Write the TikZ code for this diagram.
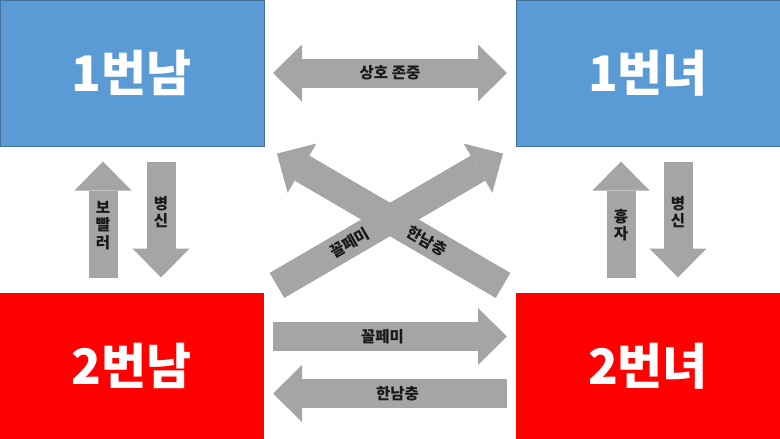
\documentclass[tikz,border=0pt]{standalone}
\usepackage{fontspec}
\newfontfamily\kr{Noto Sans CJK KR}
\usetikzlibrary{arrows.meta,calc}
\definecolor{boxblue}{HTML}{5B9BD5}
\definecolor{boxblueline}{HTML}{41719C}
\definecolor{boxred}{HTML}{FF0000}
\definecolor{arrowgray}{HTML}{A5A5A5}
\tikzset{
  fathead/.tip={Triangle[length=29pt,width=57pt,line width=0pt]},
  person/.style={minimum width=264pt,minimum height=146pt,inner sep=0pt,outer sep=0pt,
    text=white,font=\kr\bfseries\fontsize{49}{55}\selectfont},
  blue box/.style={person,fill=boxblue,draw=boxblueline,line width=1pt},
  red box/.style={person,fill=boxred},
  fat arrow/.style={draw=arrowgray,line width=29pt,-fathead,shorten <=#1,shorten >=#1},
  fat arrow/.default=9pt,
  fat label/.style={font=\kr\bfseries\fontsize{15.5}{17.5}\selectfont,text=black!90,inner sep=0pt}
}

\begin{document}
\begin{tikzpicture}[x=1pt,y=-1pt]
\useasboundingbox (0,0) rectangle (780,439);
% the four people
\node[blue box] (m1) at (132,73) {1번남};
\node[blue box] (w1) at (648,73) {1번녀};
\node[red box] (m2) at (132,366) {2번남};
\node[red box] (w2) at (648,366) {2번녀};
% top
\draw[fat arrow,fathead-fathead] (m1) -- (w1) node[midway,fat label] {상호 존중};
% left side
\draw[fat arrow=15.5pt] ($(m2.north)+(-29,0)$) -- ($(m1.south)+(-29,0)$)
  node[pos=0.46,fat label,align=center] {보\\빨\\러};
\draw[fat arrow=15.5pt] ($(m1.south)+(29,0)$) -- ($(m2.north)+(29,0)$)
  node[pos=0.45,fat label,align=center] {병\\신};
% right side
\draw[fat arrow=15.5pt] ($(w2.north)+(-27,0)$) -- ($(w1.south)+(-27,0)$)
  node[pos=0.46,fat label,align=center] {흉\\자};
\draw[fat arrow=15.5pt] ($(w1.south)+(30,0)$) -- ($(w2.north)+(30,0)$)
  node[pos=0.45,fat label,align=center] {병\\신};
% cross
\draw[fat arrow=15pt] (m2.north east) -- (w1.south west)
  node[pos=0.34,sloped,fat label] {꼴페미};
\draw[fat arrow=15pt] (w2.north west) -- (m1.south east)
  node[pos=0.353,sloped,fat label] {한남충};
% bottom
\draw[fat arrow] ($(m2.east)+(0,-29.5)$) -- ($(w2.west)+(0,-29.5)$)
  node[pos=0.47,fat label] {꼴페미};
\draw[fat arrow] ($(w2.west)+(0,27.5)$) -- ($(m2.east)+(0,27.5)$)
  node[pos=0.47,fat label] {한남충};
\end{tikzpicture}
\end{document}
